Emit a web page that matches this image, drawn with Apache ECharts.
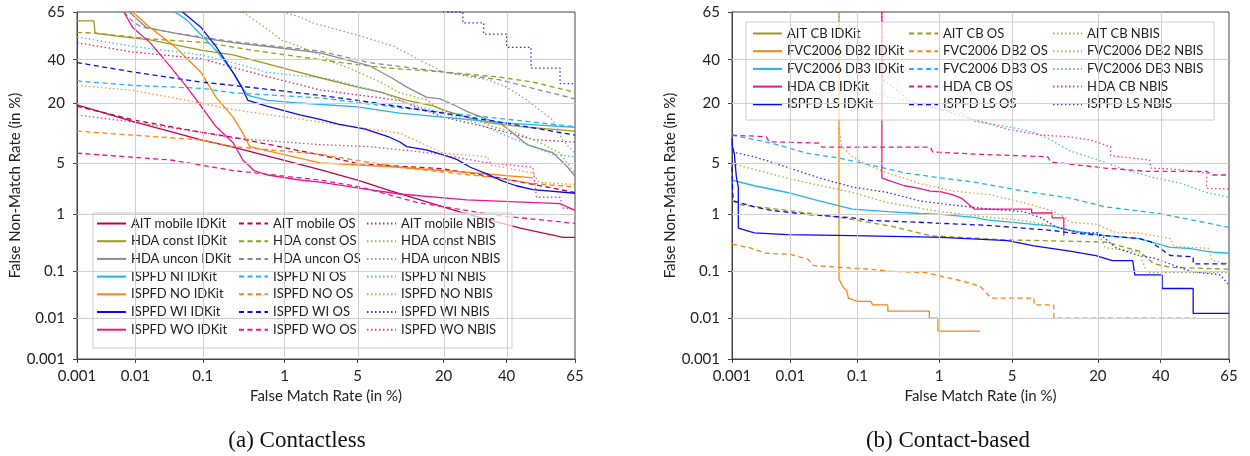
<!DOCTYPE html>
<html><head><meta charset="utf-8">
<script src="https://cdn.jsdelivr.net/npm/echarts@6/dist/echarts.min.js"></script>
<style>html,body{margin:0;padding:0;background:#fff}#c{width:1250px;height:456px}</style>
</head><body><div id="c"></div>
<script>
// ---- tick values (percent) and labels ----
const X_TICKS = [0.001, 0.01, 0.1, 1, 5, 20, 40, 65];
const Y_TICKS = [0.001, 0.01, 0.1, 1, 5, 20, 40, 65];
const TICK_LABELS = ['0.001', '0.01', '0.1', '1', '5', '20', '40', '65'];

// ---- (a) Contactless: [FMR %, FNMR %] ----
const L_AIT_mobile_IDKit = [[0.001,19.5],[0.009,14],[0.095,9.2],[0.25,7.7],[2.3,4.2],[5,3.1],[9.2,2.2],[25.4,1.05],[45,0.6],[60.8,0.42],[65,0.42]];
const L_AIT_mobile_OS = [[0.001,19],[0.009,14.5],[0.095,11],[0.25,9.8],[2.3,6.3],[5,5],[19.9,4.3],[37.6,3.3],[65,2.1]];
const L_AIT_mobile_NBIS = [[0.001,49],[0.009,44],[0.095,40.5],[0.65,31.5],[2.3,25.5],[10.5,21.2],[19.9,15.3],[33.3,12.3],[49.7,9.3],[65,8.7]];
const L_HDA_const_IDKit = [[0.001,60.5],[0.002,60.5],[0.0021,54],[0.005,52.5],[0.017,50.5],[0.095,45],[0.25,42.5],[0.95,35.8],[2.3,31],[5,26.7],[7.9,24.3],[11.8,21.2],[17.2,19.2],[21,17.2],[26.6,15.3],[33.3,13.6],[45,12.5],[65,11.3]];
const L_HDA_const_OS = [[0.001,54.5],[0.0022,54],[0.017,51],[0.11,49],[0.42,45],[2.3,40],[3.6,38.5],[8.3,35.8],[19.9,33.8],[37.6,31.3],[49.7,29],[65,24.5]];
const L_HDA_const_NBIS = [[0.33,65],[0.45,61],[0.65,56],[0.95,50],[1.45,47],[2.3,42.5],[3.1,38.5],[4.6,34.8],[7.9,28.5],[10.5,24.3],[15.8,21.5],[19.1,17.8],[29,14.5],[35.2,12.5],[43.2,11],[52.4,8.6],[59.7,6.6],[65,3.8]];
const L_HDA_uncon_IDKit = [[0.008,65],[0.011,61],[0.015,57],[0.035,54.5],[0.095,51.5],[0.25,49],[0.95,46],[2.3,43.5],[3.4,41],[6.2,37],[9.2,31],[11.8,26.7],[15.8,22.5],[19.1,21.8],[23.6,19],[26.6,17.2],[33.3,14.6],[37.6,13.5],[42.2,10.8],[47.5,8.2],[57,6.7],[62.2,4.6],[65,3.5]];
const L_HDA_uncon_OS = [[0.0065,65],[0.0085,61],[0.012,57.5],[0.035,54.5],[0.25,49.5],[2.3,44.5],[6.2,38.5],[19.9,33.8],[37.6,30],[49.7,26.2],[65,21.8]];
const L_HDA_uncon_NBIS = [[0.95,65],[1.45,62.5],[1.95,59.5],[5.3,52.5],[9.6,47],[15.8,38],[19.9,33.8],[33.3,30],[40,26.7],[47.5,21.3],[52,17.8],[57,14.5],[60.8,9],[65,6.6]];
const L_ISPFD_NI_IDKit = [[0.04,65],[0.06,61],[0.09,54],[0.15,45],[0.25,33.5],[0.32,26.7],[0.38,23.2],[0.65,21.2],[1.45,20.2],[5,18.8],[10.5,16.6],[19.9,15.3],[37.6,13.6],[65,12.3]];
const L_ISPFD_NI_OS = [[0.001,29.5],[0.009,27.5],[0.095,26.2],[0.25,24.3],[2.3,22.2],[10.5,18.5],[26.6,16],[65,12.5]];
const L_ISPFD_NI_NBIS = [[0.001,52],[0.009,47],[0.095,42.5],[0.25,38.5],[0.65,33.5],[2.3,31],[3.1,30],[7.9,24.3],[11.8,20.2],[19.9,16.6],[29.5,13.6],[37.6,10.8],[49.7,7.8],[57,6.4],[65,6]];
const L_ISPFD_NO_IDKit = [[0.009,65],[0.017,57],[0.04,47],[0.095,33.5],[0.15,22.5],[0.25,15.3],[0.33,10.8],[0.4,7.8],[0.65,7],[2.3,5.1],[10.5,4.5],[26.6,3.9],[49.7,3.3]];
const L_ISPFD_NO_OS = [[0.001,11.3],[0.009,10.3],[0.095,9.2],[0.25,7.8],[2.3,6.4],[10.5,4.5],[33.3,3.4],[49.7,2.8],[65,2.5]];
const L_ISPFD_NO_NBIS = [[0.001,27.5],[0.009,25.3],[0.095,20.2],[0.25,17.8],[2.3,13.8],[5,12.3],[10.5,10.8],[19.9,6.6],[33.3,6],[34.3,4.8],[49.7,3.8],[52,2.9],[65,2.7]];
const L_ISPFD_WI_IDKit = [[0.052,65],[0.095,57],[0.15,47],[0.25,33.5],[0.32,26.7],[0.38,21.2],[0.65,19],[1.45,16],[2.3,14.6],[3.4,13.2],[5.8,11.8],[8.9,9.8],[10.5,8.8],[11.8,7.8],[15.8,7.2],[19.9,6.3],[23.6,5.6],[27.7,4.5],[33.3,3.7],[37.6,3.1],[43.5,2.6],[49.7,2.3],[65,2.05]];
const L_ISPFD_WI_OS = [[0.001,38.5],[0.009,33.8],[0.095,29],[0.25,27.5],[2.3,23.2],[5,21.2],[19.9,16.6],[37.6,13.8],[65,10.3]];
const L_ISPFD_WI_NBIS = [[19.9,65],[25.4,65],[25.4,59.5],[32,59.5],[32,53.5],[40,53.5],[40,46.5],[49,46.5],[49,35.7],[59.7,35.7],[59.7,28.3],[65,28.3]];
const L_ISPFD_WO_IDKit = [[0.0065,65],[0.009,57],[0.017,49],[0.035,36.2],[0.06,26.7],[0.095,19],[0.15,12.5],[0.25,8.6],[0.33,5.5],[0.45,4.1],[0.65,3.6],[1.45,3.1],[2.3,2.9],[5.3,2.4],[10.5,2],[26.6,1.65],[59.7,1.45],[65,1.15]];
const L_ISPFD_WO_OS = [[0.001,6.6],[0.035,5.5],[0.25,4.1],[2.3,3.1],[5.3,2.5],[14,1.5],[37.6,0.95],[65,0.72]];
const L_ISPFD_WO_NBIS = [[0.001,16],[0.009,13.8],[0.095,11],[0.25,9.6],[2.3,8.2],[6.2,7.8],[17.2,6.6],[33.3,5.1],[49.7,4.5],[51,1.8],[59.7,1.8],[60.8,1.25],[65,1.2]];

// ---- (b) Contact-based: [FMR %, FNMR %] ----
const R_AIT_CB_IDKit = [];
const R_AIT_CB_OS = [[0.001,1.6],[0.0014,1.4],[0.009,1.15],[0.055,0.9],[0.27,0.65],[0.8,0.45],[1.7,0.42],[4.6,0.38],[22,0.35],[32.5,0.24],[37.5,0.14],[43.5,0.12],[65,0.11]];
const R_AIT_CB_NBIS = [[0.001,5],[0.002,4.4],[0.005,3.7],[0.01,3.2],[0.03,2.6],[0.085,2.1],[0.25,1.5],[1.05,1.1],[2.1,0.97],[6,0.8],[10,0.67],[15.7,0.5],[20,0.5],[22,0.28],[32.5,0.23],[35,0.095],[65,0.095]];
const R_FVC_DB2_IDKit = [[0.055,65],[0.055,0.07],[0.06,0.055],[0.065,0.045],[0.07,0.042],[0.075,0.028],[0.1,0.024],[0.15,0.024],[0.16,0.02],[0.25,0.02],[0.25,0.0145],[0.78,0.0145],[0.78,0.01],[0.97,0.01],[0.97,0.005],[2.6,0.005]];
const R_FVC_DB2_OS = [[0.001,0.32],[0.002,0.28],[0.004,0.22],[0.01,0.21],[0.019,0.17],[0.023,0.13],[0.055,0.12],[0.15,0.11],[0.27,0.1],[0.7,0.095],[1.05,0.08],[1.7,0.065],[2.6,0.05],[3.3,0.028],[7.5,0.028],[7.5,0.02],[10.5,0.02],[10.5,0.01],[53,0.01]];
const R_FVC_DB2_NBIS = [[0.055,12],[0.06,7.8],[0.085,6],[0.14,4.7],[0.25,3.8],[0.6,2.8],[1.4,2.2],[3.2,1.95],[6.2,1.5],[10,1.15],[12.5,0.9],[13.5,0.75],[19.5,0.7],[25.3,0.5],[32.5,0.5],[43.5,0.4],[44.8,0.29],[58,0.27],[59,0.16],[65,0.14]];
const R_FVC_DB3_IDKit = [[0.001,3.1],[0.0025,2.6],[0.009,2.1],[0.028,1.6],[0.085,1.2],[0.25,1.1],[0.6,1.03],[1.05,1.0],[2.3,0.9],[3,0.82],[6.2,0.72],[10.3,0.65],[13.5,0.55],[22,0.45],[32.5,0.4],[43.5,0.28],[50.5,0.27],[59,0.23],[65,0.22]];
const R_FVC_DB3_OS = [[0.001,10.3],[0.005,8.5],[0.018,6.6],[0.055,5.8],[0.15,4.8],[0.42,3.8],[1.05,3.3],[2.3,2.9],[6.2,2.2],[13.5,1.75],[22,1.3],[39.5,1.03],[65,0.62]];
const R_FVC_DB3_NBIS = [[0.055,65],[0.056,36],[0.1,28.5],[0.15,24.5],[0.42,21],[1.05,17.8],[1.7,16.8],[2.3,14],[4.6,12.5],[7.5,11],[10,9.2],[13.5,7],[20.2,5.5],[26.5,4.4],[36.5,3.4],[47.5,2.8],[57,2.1],[65,1.8]];
const R_HDA_CB_IDKit = [[0.21,65],[0.21,3.3],[0.25,3.1],[0.4,2.6],[0.6,2.4],[0.8,2.2],[1.05,2.15],[1.4,1.95],[1.7,1.75],[2.3,1.2],[7.2,1.2],[7.2,1.05],[10.2,1.05],[10.2,0.88],[12.3,0.88],[12.3,0.45]];
const R_HDA_CB_OS = [[0.001,10.3],[0.004,9.9],[0.0045,8.8],[0.028,8.5],[0.031,7.7],[0.8,7.7],[0.85,6.8],[2.6,6.4],[9.5,6],[10,5.2],[22,4.4],[35,4],[57,4],[59,3.6],[65,3.6]];
const R_HDA_CB_NBIS = [[0.21,65],[0.22,30],[0.47,21],[1.05,17.8],[2.3,14.5],[4.6,11.8],[8.5,10.3],[13.5,9.9],[18,9.2],[23.5,7.8],[23.5,6.2],[36,5.5],[36.5,4.4],[47.5,4.2],[57,3.8],[57,2.4],[65,2.35]];
const R_ISPFD_LS_IDKit = [[0.001,9.5],[0.00102,7.8],[0.0011,6.6],[0.0012,3.4],[0.0013,2.5],[0.0013,0.6],[0.0025,0.5],[0.009,0.47],[0.085,0.45],[0.6,0.43],[1.05,0.42],[4.6,0.37],[7.5,0.3],[13.5,0.24],[19.5,0.2],[24,0.16],[30.3,0.16],[31,0.085],[40.5,0.085],[40.5,0.045],[52,0.045],[52,0.013],[65,0.013]];
const R_ISPFD_LS_OS = [[0.001,4.5],[0.00102,2.5],[0.00105,1.6],[0.0025,1.3],[0.005,1.15],[0.018,1.0],[0.085,0.88],[0.15,0.8],[0.6,0.75],[1.05,0.72],[3,0.67],[10.3,0.55],[13.5,0.5],[22,0.45],[32.5,0.4],[36.5,0.35],[43.5,0.2],[52,0.19],[52,0.14],[65,0.14]];
const R_ISPFD_LS_NBIS = [[0.001,6.8],[0.0025,6],[0.009,4.5],[0.028,3.3],[0.085,2.5],[0.25,2.1],[0.6,1.6],[1.05,1.45],[3.2,1.2],[6.2,1.1],[8.5,0.88],[11,0.62],[15.7,0.5],[20.2,0.5],[25.3,0.27],[32.5,0.2],[37.5,0.18],[51,0.1],[62,0.085],[65,0.052]];

// ---- colours ----
const C = {ait:'#C4004B', hdaConst:'#9C9A1C', hdaUncon:'#8C8C8C', cyan:'#22B4EE', orange:'#FF8410', blue:'#0A0AF5', pink:'#EE168C'};

// inverse normal CDF (Acklam) -> probit scale used by DET plots
function probit(p){
  const a=[-3.969683028665376e+01,2.209460984245205e+02,-2.759285104469687e+02,1.383577518672690e+02,-3.066479806614716e+01,2.506628277459239e+00];
  const b=[-5.447609879822406e+01,1.615858368580409e+02,-1.556989798598866e+02,6.680131188771972e+01,-1.328068155288572e+01];
  const c=[-7.784894002430293e-03,-3.223964580411365e-01,-2.400758277161838e+00,-2.549732539343734e+00,4.374664141464968e+00,2.938163982698783e+00];
  const d=[7.784695709041462e-03,3.224671290700398e-01,2.445134137142996e+00,3.754408661907416e+00];
  const pl=0.02425, ph=1-pl; let q,r;
  if(p<pl){q=Math.sqrt(-2*Math.log(p));return (((((c[0]*q+c[1])*q+c[2])*q+c[3])*q+c[4])*q+c[5])/((((d[0]*q+d[1])*q+d[2])*q+d[3])*q+1);}
  if(p<=ph){q=p-0.5;r=q*q;return (((((a[0]*r+a[1])*r+a[2])*r+a[3])*r+a[4])*r+a[5])*q/(((((b[0]*r+b[1])*r+b[2])*r+b[3])*r+b[4])*r+1);}
  q=Math.sqrt(-2*Math.log(1-p));return -(((((c[0]*q+c[1])*q+c[2])*q+c[3])*q+c[4])*q+c[5])/((((d[0]*q+d[1])*q+d[2])*q+d[3])*q+1);
}
const P = v => probit(v/100);
const XT = X_TICKS.map(P), YT = Y_TICKS.map(P);
function fmtX(v){ let bi=0; XT.forEach((t,i)=>{ if(Math.abs(t-v)<Math.abs(XT[bi]-v)) bi=i; }); return TICK_LABELS[bi]; }
function fmtY(v){ let bi=0; YT.forEach((t,i)=>{ if(Math.abs(t-v)<Math.abs(YT[bi]-v)) bi=i; }); return TICK_LABELS[bi]; }

const FONT = 'Lato';
const DASH = {IDKit:'solid', OS:[5,3.5], NBIS:[1.5,2.5]};
function mk(name, data, color, kind, g){
  return {type:'line', name, xAxisIndex:g, yAxisIndex:g, symbol:'none', showSymbol:false, animation:false, z:2,
    data: data.map(([x,y])=>[P(x),P(y)]),
    itemStyle:{color}, lineStyle:{color, width:1.3, type:DASH[kind], opacity: kind==='NBIS'?0.85:1}};
}
function gridLines(g){
  return {type:'line', xAxisIndex:g, yAxisIndex:g, data:[], silent:true, z:1, animation:false,
    markLine:{silent:true, symbol:['none','none'], label:{show:false}, animation:false,
      lineStyle:{color:'#cfcfcf', type:'solid', width:1},
      data:[...XT.slice(1,-1).map(v=>({xAxis:v})), ...YT.slice(1,-1).map(v=>({yAxis:v}))]}};
}
function xAx(g){ return {type:'value', gridIndex:g, min:XT[0], max:XT[XT.length-1],
  name:'False Match Rate (in %)', nameLocation:'middle', nameGap:29,
  nameTextStyle:{fontFamily:FONT, fontSize:15, color:'#222'},
  axisLine:{show:true, onZero:false, lineStyle:{color:'#444'}},
  axisTick:{show:true, length:4, customValues:XT, lineStyle:{color:'#444'}},
  axisLabel:{customValues:XT, formatter:fmtX, fontFamily:FONT, fontSize:15, color:'#222', margin:10},
  splitLine:{show:false}}; }
function yAx(g){ return {type:'value', gridIndex:g, min:YT[0], max:YT[YT.length-1],
  name:'False Non-Match Rate (in %)', nameLocation:'middle', nameGap:42,
  nameTextStyle:{fontFamily:FONT, fontSize:15, color:'#222'},
  axisLine:{show:true, onZero:false, lineStyle:{color:'#444'}},
  axisTick:{show:true, length:4, customValues:YT, lineStyle:{color:'#444'}},
  axisLabel:{customValues:YT, formatter:fmtY, fontFamily:FONT, fontSize:15, color:'#222', margin:12},
  splitLine:{show:false}}; }

const series = [
  gridLines(0), gridLines(1),
  mk('AIT mobile IDKit', L_AIT_mobile_IDKit, C.ait, 'IDKit', 0),
  mk('AIT mobile OS', L_AIT_mobile_OS, C.ait, 'OS', 0),
  mk('AIT mobile NBIS', L_AIT_mobile_NBIS, C.ait, 'NBIS', 0),
  mk('HDA const IDKit', L_HDA_const_IDKit, C.hdaConst, 'IDKit', 0),
  mk('HDA const OS', L_HDA_const_OS, C.hdaConst, 'OS', 0),
  mk('HDA const NBIS', L_HDA_const_NBIS, C.hdaConst, 'NBIS', 0),
  mk('HDA uncon IDKit', L_HDA_uncon_IDKit, C.hdaUncon, 'IDKit', 0),
  mk('HDA uncon OS', L_HDA_uncon_OS, C.hdaUncon, 'OS', 0),
  mk('HDA uncon NBIS', L_HDA_uncon_NBIS, C.hdaUncon, 'NBIS', 0),
  mk('ISPFD NI IDKit', L_ISPFD_NI_IDKit, C.cyan, 'IDKit', 0),
  mk('ISPFD NI OS', L_ISPFD_NI_OS, C.cyan, 'OS', 0),
  mk('ISPFD NI NBIS', L_ISPFD_NI_NBIS, C.cyan, 'NBIS', 0),
  mk('ISPFD NO IDKit', L_ISPFD_NO_IDKit, C.orange, 'IDKit', 0),
  mk('ISPFD NO OS', L_ISPFD_NO_OS, C.orange, 'OS', 0),
  mk('ISPFD NO NBIS', L_ISPFD_NO_NBIS, C.orange, 'NBIS', 0),
  mk('ISPFD WI IDKit', L_ISPFD_WI_IDKit, C.blue, 'IDKit', 0),
  mk('ISPFD WI OS', L_ISPFD_WI_OS, C.blue, 'OS', 0),
  mk('ISPFD WI NBIS', L_ISPFD_WI_NBIS, C.blue, 'NBIS', 0),
  mk('ISPFD WO IDKit', L_ISPFD_WO_IDKit, C.pink, 'IDKit', 0),
  mk('ISPFD WO OS', L_ISPFD_WO_OS, C.pink, 'OS', 0),
  mk('ISPFD WO NBIS', L_ISPFD_WO_NBIS, C.pink, 'NBIS', 0),
  mk('AIT CB IDKit', R_AIT_CB_IDKit, C.hdaConst, 'IDKit', 1),
  mk('AIT CB OS', R_AIT_CB_OS, C.hdaConst, 'OS', 1),
  mk('AIT CB NBIS', R_AIT_CB_NBIS, C.hdaConst, 'NBIS', 1),
  mk('FVC2006 DB2 IDKit', R_FVC_DB2_IDKit, C.orange, 'IDKit', 1),
  mk('FVC2006 DB2 OS', R_FVC_DB2_OS, C.orange, 'OS', 1),
  mk('FVC2006 DB2 NBIS', R_FVC_DB2_NBIS, C.orange, 'NBIS', 1),
  mk('FVC2006 DB3 IDKit', R_FVC_DB3_IDKit, C.cyan, 'IDKit', 1),
  mk('FVC2006 DB3 OS', R_FVC_DB3_OS, C.cyan, 'OS', 1),
  mk('FVC2006 DB3 NBIS', R_FVC_DB3_NBIS, C.cyan, 'NBIS', 1),
  mk('HDA CB IDKit', R_HDA_CB_IDKit, C.pink, 'IDKit', 1),
  mk('HDA CB OS', R_HDA_CB_OS, C.pink, 'OS', 1),
  mk('HDA CB NBIS', R_HDA_CB_NBIS, C.pink, 'NBIS', 1),
  mk('ISPFD LS IDKit', R_ISPFD_LS_IDKit, C.blue, 'IDKit', 1),
  mk('ISPFD LS OS', R_ISPFD_LS_OS, C.blue, 'OS', 1),
  mk('ISPFD LS NBIS', R_ISPFD_LS_NBIS, C.blue, 'NBIS', 1)
];

const L_GROUPS = ['AIT mobile','HDA const','HDA uncon','ISPFD NI','ISPFD NO','ISPFD WI','ISPFD WO'];
const R_GROUPS = ['AIT CB','FVC2006 DB2','FVC2006 DB3','HDA CB','ISPFD LS'];
function leg(names, left, top){
  return {orient:'vertical', left, top, padding:0, itemWidth:29, itemHeight:14, itemGap:4.7,
    selectedMode:false, z:5, data:names,
    itemStyle:{opacity:0, borderWidth:0},
    textStyle:{fontFamily:FONT, fontSize:13, color:'#222'}};
}
const legends = [
  leg(L_GROUPS.map(g=>g+' IDKit'), 96, 217),
  leg(L_GROUPS.map(g=>g+' OS'), 238, 217),
  leg(L_GROUPS.map(g=>g+' NBIS'), 366, 217),
  leg(R_GROUPS.map(g=>g+' IDKit'), 752, 27),
  leg(R_GROUPS.map(g=>g+' OS'), 908, 27),
  leg(R_GROUPS.map(g=>g+' NBIS'), 1052, 27)
];

const chart = echarts.init(document.getElementById('c'), null, {renderer:'canvas'});
chart.setOption({
  animation:false,
  backgroundColor:'#ffffff',
  grid:[
    {left:77, right:675, top:12, bottom:97, show:true, borderColor:'#444', borderWidth:1, backgroundColor:'transparent'},
    {left:732, right:21, top:12, bottom:97, show:true, borderColor:'#444', borderWidth:1, backgroundColor:'transparent'}
  ],
  xAxis:[xAx(0), xAx(1)],
  yAxis:[yAx(0), yAx(1)],
  legend: legends,
  series,
  graphic:[
    {type:'rect', z:3, silent:true, shape:{x:93, y:213, width:419, height:135}, style:{fill:'rgba(255,255,255,0.7)', stroke:'#cccccc', lineWidth:1}},
    {type:'rect', z:3, silent:true, shape:{x:746, y:22, width:468, height:98}, style:{fill:'rgba(255,255,255,0.7)', stroke:'#cccccc', lineWidth:1}},
    {type:'text', x:297, y:441, style:{text:'(a) Contactless', fontFamily:'Liberation Serif', fontSize:23, fill:'#111', align:'center', verticalAlign:'middle'}},
    {type:'text', x:948, y:441, style:{text:'(b) Contact-based', fontFamily:'Liberation Serif', fontSize:23, fill:'#111', align:'center', verticalAlign:'middle'}}
  ]
});
</script></body></html>
